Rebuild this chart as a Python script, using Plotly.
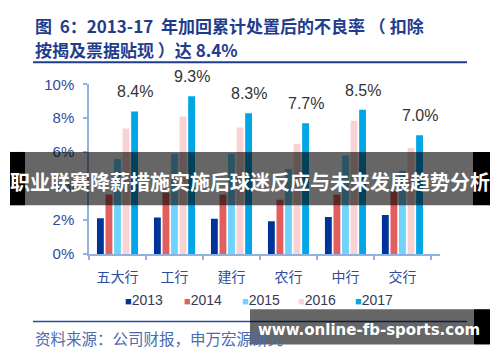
import plotly.graph_objects as go

categories = ["五大行", "工行", "建行", "农行", "中行", "交行"]
years = ["2013", "2014", "2015", "2016", "2017"]
v2013 = [2.11, 2.15, 2.07, 1.92, 2.17, 2.30]
v2014 = [3.5, 3.6, 3.5, 3.2, 3.5, 3.7]
v2015 = [5.6, 5.9, 5.9, 5.0, 5.8, 4.9]
v2016 = [7.4, 8.1, 7.45, 6.5, 7.85, 6.25]
v2017 = [8.4, 9.3, 8.3, 7.7, 8.5, 7.0]
series = [v2013, v2014, v2015, v2016, v2017]
colors = ["#003399", "#e35f5f", "#6fd3fb", "#f9d3d3", "#00a6e6"]

NB = "\u00a0"
title1 = f"图{NB}{NB}6：2013-17{NB}{NB}年加回累计处置后的不良率{NB}（{NB}扣除"
title2 = f"按揭及票据贴现{NB}）达{NB}8.4%"
source = "资料来源：公司财报，申万宏源研究"
banner = "职业联赛降薪措施实施后球迷反应与未来发展趋势分析"
site = "www.online-fb-sports.com"

W, H = 500, 362
def px(x): return x / W
def py(y): return 1 - y / H

CJK = "Noto Sans CJK SC"
ARIAL = "Liberation Sans"
BLUE = "#2c4c9c"
AXIS = "#8fb2de"

bargap, bargroupgap = 0.25, 0.2
x0, x1 = 89, 440

fig = go.Figure()
for name, vals, col in zip(years, series, colors):
    fig.add_trace(go.Bar(x=categories, y=vals, name=name, marker_color=col,
                         marker_line_width=0))

# value labels on 2017 bars
cat_w = (x1 - x0) / len(categories)
slot = cat_w * (1 - bargap) / len(years)
shift = slot * 2
ann = []
for c, v in zip(categories, v2017):
    ann.append(dict(x=c, y=v, xref="x", yref="y", text=f"{v:.1f}%", showarrow=False,
                    xshift=shift, yshift=9, yanchor="bottom",
                    font=dict(family=ARIAL, size=16, color="#333333")))

# titles
ann.append(dict(x=px(33), y=py(17), xref="paper", yref="paper", text=f"<b>{title1}</b>",
                showarrow=False, xanchor="left", yanchor="middle",
                font=dict(family=CJK, size=17, color="#1f3d8c")))
ann.append(dict(x=px(33), y=py(43), xref="paper", yref="paper", text=f"<b>{title2}</b>",
                showarrow=False, xanchor="left", yanchor="middle",
                font=dict(family=CJK, size=17, color="#1f3d8c")))
# source
ann.append(dict(x=px(33), y=py(345), xref="paper", yref="paper", text=source,
                showarrow=False, xanchor="left", yanchor="middle",
                font=dict(family=CJK, size=15.5, color="#4a6cb0")))
# legend
leg_x = [123, 182, 240, 296, 353]
for lx, name, col in zip(leg_x, years, colors):
    ann.append(dict(x=px(lx), y=py(305), xref="paper", yref="paper",
                    text=f"<span style='color:{col};font-size:11px'>■</span>{name}",
                    showarrow=False, xanchor="left", yanchor="middle",
                    font=dict(family=ARIAL, size=14, color="#333a55")))

shapes = [
    dict(type="line", xref="paper", yref="paper", x0=px(33), x1=px(467), y0=py(56), y1=py(56),
         line=dict(color="#1f3d8c", width=2)),
    dict(type="line", xref="paper", yref="paper", x0=px(33), x1=px(467), y0=py(328), y1=py(328),
         line=dict(color="#2a4a9a", width=1.5)),
    # banner
    dict(type="rect", xref="paper", yref="paper", x0=px(10), x1=px(25), y0=py(206), y1=py(150),
         fillcolor="black", line_width=0, layer="above"),
    dict(type="rect", xref="paper", yref="paper", x0=px(25), x1=px(473), y0=py(206), y1=py(150),
         fillcolor="rgba(0,0,0,0.6)", line_width=0, layer="above"),
    dict(type="rect", xref="paper", yref="paper", x0=px(473), x1=px(490), y0=py(206), y1=py(150),
         fillcolor="black", line_width=0, layer="above"),
    # site box
    dict(type="rect", xref="paper", yref="paper", x0=px(250), x1=px(474), y0=py(352), y1=py(315),
         fillcolor="rgba(0,0,0,0.6)", line_width=0, layer="above"),
    dict(type="rect", xref="paper", yref="paper", x0=px(474), x1=px(490), y0=py(352), y1=py(315),
         fillcolor="black", line_width=0, layer="above"),
]

ann.append(dict(x=px(250), y=py(181), xref="paper", yref="paper", text=f"<b>{banner}</b>",
                showarrow=False, xanchor="center", yanchor="middle",
                font=dict(family=CJK, size=20, color="white")))
ann.append(dict(x=px(369), y=py(337), xref="paper", yref="paper", text=f"<b>{site}</b>",
                showarrow=False, xanchor="center", yanchor="middle",
                font=dict(family="DejaVu Sans", size=15, color="white")))

fig.update_layout(
    width=W, height=H, margin=dict(l=0, r=0, t=0, b=0),
    paper_bgcolor="white", plot_bgcolor="white", showlegend=False,
    barmode="group", bargap=bargap, bargroupgap=bargroupgap,
    annotations=ann, shapes=shapes,
    xaxis=dict(domain=[px(x0), px(x1)], showline=True, linecolor=AXIS, linewidth=1.5,
               ticks="outside", tickson="boundaries", ticklen=4, tickcolor=AXIS, tickwidth=1.5,
               showgrid=False, ticklabelstandoff=10,
               tickfont=dict(family=CJK, size=14, color=BLUE)),
    yaxis=dict(domain=[py(257), py(79)], range=[0, 10], dtick=2, ticksuffix="%",
               showline=True, linecolor=AXIS, linewidth=1.5, ticks="outside", ticklen=4,
               tickcolor=AXIS, tickwidth=1.5, showgrid=False, zeroline=False,
               ticklabelstandoff=6,
               tickfont=dict(family=ARIAL, size=15, color=BLUE)),
)

fig.write_html("out.html", config={"displayModeBar": False},
               post_script="document.body.style.margin='0';document.body.style.overflow='hidden';")
